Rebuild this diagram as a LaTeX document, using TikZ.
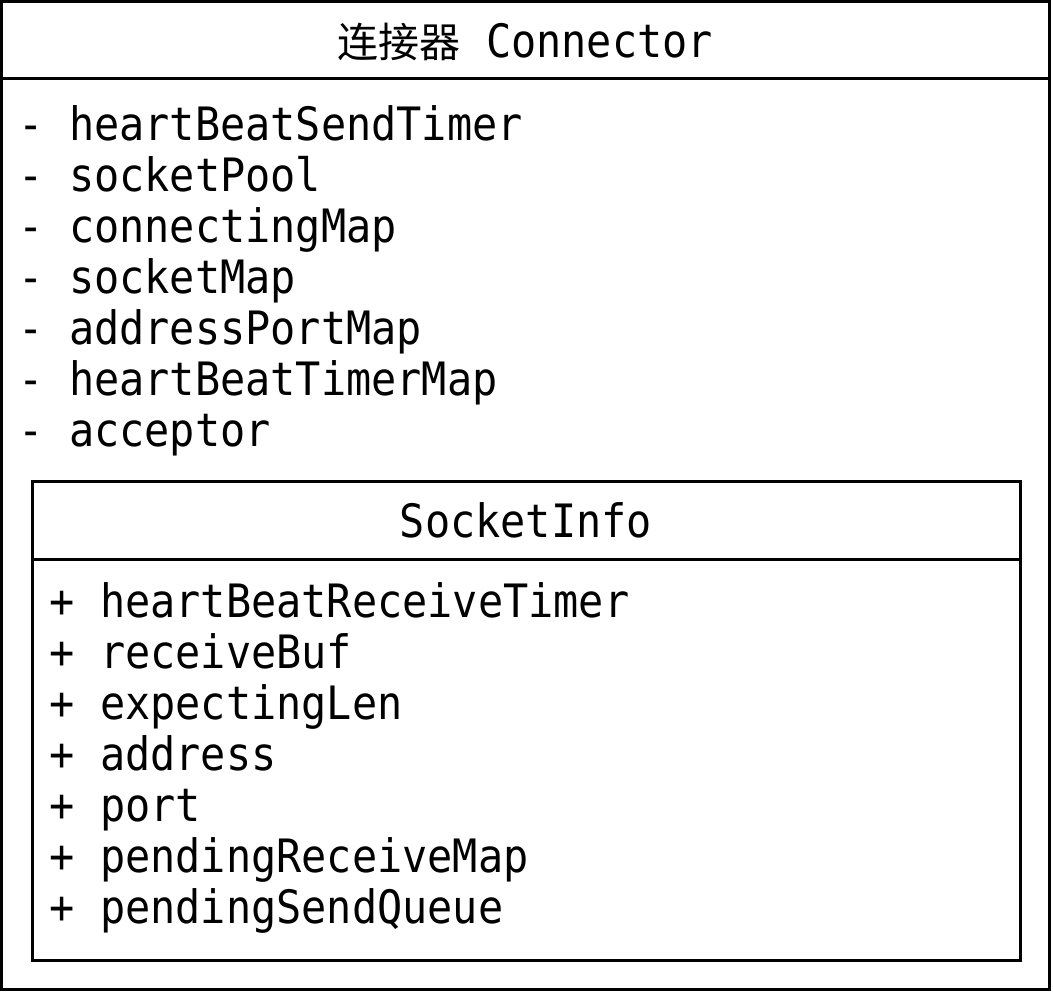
\documentclass[tikz,border=0pt]{standalone}
\usepackage{fontspec}
\newfontfamily\monof[FakeStretch=0.91]{DejaVu Sans Mono}
\newfontfamily\cjkf{Noto Sans CJK SC}
\begin{document}
\begin{tikzpicture}[x=1pt,y=-1pt,
  box/.style={draw=black,line width=3pt},
  txt/.style={inner sep=0pt,font=\monof\fontsize{46}{51}\selectfont},
  attr/.style={txt,anchor=base west}]
\useasboundingbox (0,0) rectangle (1053,1002);
% outer class box
\draw[box] (1.5,1.5) rectangle (1049.5,989.5);
\draw[box] (1.5,78.5) -- (1049.5,78.5);
\node[txt,anchor=base] (title) at (525.5,57) {{\cjkf\fontsize{41}{41}\selectfont 连接器}\ Connector};
\foreach \t [count=\i from 0] in {heartBeatSendTimer,socketPool,connectingMap,socketMap,addressPortMap,heartBeatTimerMap,acceptor}
  \node[attr] (oa\i) at (18.5,{140+51*\i}) {- \t};
% inner class box
\draw[box] (32,481) rectangle (1020.5,960);
\draw[box] (32,559) -- (1020.5,559);
\node[txt,anchor=base] (inner) at (526,537) {SocketInfo};
\foreach \t [count=\i from 0] in {heartBeatReceiveTimer,receiveBuf,expectingLen,address,port,pendingReceiveMap,pendingSendQueue}
  \node[attr] (ia\i) at (49.5,{617+51*\i}) {+ \t};
\end{tikzpicture}
\end{document}
